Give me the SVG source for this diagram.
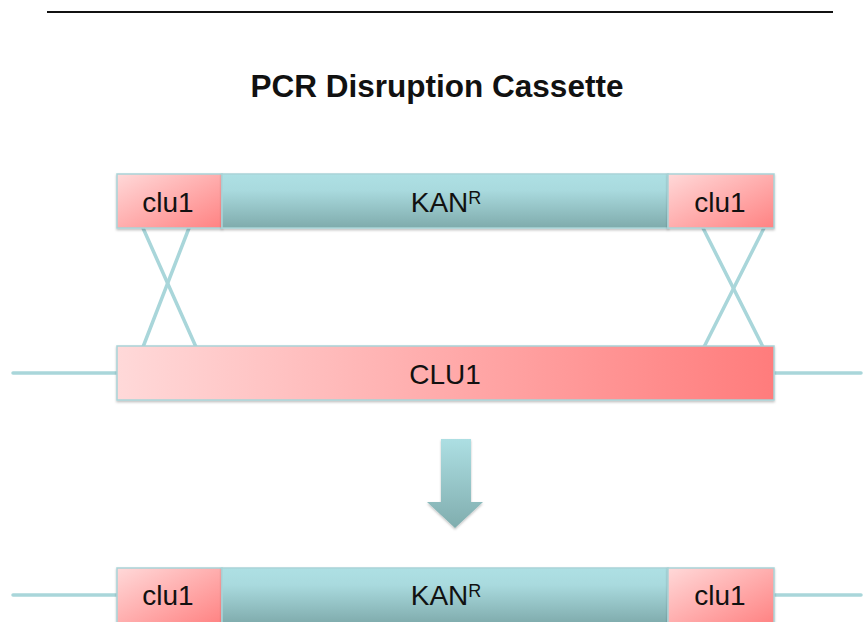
<svg xmlns="http://www.w3.org/2000/svg" width="863" height="622" viewBox="0 0 863 622">
<defs>
<linearGradient id="pinkDiag" x1="0" y1="0" x2="1" y2="1">
<stop offset="0" stop-color="#ffd9d9"/>
<stop offset="1" stop-color="#ff8282"/>
</linearGradient>
<linearGradient id="pinkH" x1="0" y1="0" x2="1" y2="0">
<stop offset="0" stop-color="#ffd9d9"/>
<stop offset="1" stop-color="#ff7c7c"/>
</linearGradient>
<linearGradient id="teal" x1="0" y1="0" x2="0" y2="1">
<stop offset="0" stop-color="#aee0e4"/>
<stop offset="0.3" stop-color="#a9dade"/>
<stop offset="1" stop-color="#7fabac"/>
</linearGradient>
<linearGradient id="tealArrow" x1="0" y1="0" x2="0" y2="1">
<stop offset="0" stop-color="#addfe3"/>
<stop offset="1" stop-color="#80adae"/>
</linearGradient>
<filter id="sh" x="-5%" y="-10%" width="110%" height="130%">
<feDropShadow dx="0" dy="1.5" stdDeviation="1.2" flood-color="#000" flood-opacity="0.25"/>
</filter>
</defs>
<style>
.box{stroke:#a9d4d7;stroke-width:1.5;filter:url(#sh)}
.ln{stroke:#a9d6da;stroke-width:3.5;fill:none;stroke-linecap:round}
.lbl{font-family:"Liberation Sans",Arial,sans-serif;font-size:28px;fill:#111;text-anchor:middle}
.sup{font-size:18px}
.ttl{font-family:"Liberation Sans",Arial,sans-serif;font-size:31.5px;font-weight:bold;fill:#111;text-anchor:middle}
</style>
<line x1="47" y1="12" x2="833" y2="12" stroke="#111" stroke-width="2"/>
<text class="ttl" x="437" y="97">PCR Disruption Cassette</text>
<g id="connectors">
<line class="ln" x1="13" y1="373" x2="117" y2="373"/>
<line class="ln" x1="775" y1="373" x2="861" y2="373"/>
<line class="ln" x1="143" y1="228" x2="196" y2="347"/>
<line class="ln" x1="189" y1="228" x2="143" y2="347"/>
<line class="ln" x1="703" y1="228" x2="763" y2="347"/>
<line class="ln" x1="764" y1="228" x2="704" y2="347"/>
<line class="ln" x1="13" y1="595" x2="117" y2="595"/>
<line class="ln" x1="775" y1="595" x2="861" y2="595"/>
</g>
<g id="top-clu1-left">
<rect class="box" x="117" y="174" width="105" height="54" fill="url(#pinkDiag)"/>
<text class="lbl" x="168" y="212">clu1</text>
</g>
<g id="top-kan">
<rect class="box" x="222" y="174" width="446" height="54" fill="url(#teal)"/>
<text class="lbl" x="446" y="212">KAN<tspan class="sup" dy="-8">R</tspan></text>
</g>
<g id="top-clu1-right">
<rect class="box" x="668" y="174" width="106" height="54" fill="url(#pinkDiag)"/>
<text class="lbl" x="720" y="212">clu1</text>
</g>
<g id="CLU1">
<rect class="box" x="117" y="346" width="657" height="54" fill="url(#pinkH)"/>
<text class="lbl" x="445" y="384">CLU1</text>
</g>
<g id="arrow">
<path d="M441,439 H471 V502 H483 L455,528 L427,502 H441 Z" fill="url(#tealArrow)" filter="url(#sh)"/>
</g>
<g id="bottom-clu1-left">
<rect class="box" x="117" y="568" width="105" height="56" fill="url(#pinkDiag)"/>
<text class="lbl" x="168" y="605">clu1</text>
</g>
<g id="bottom-kan">
<rect class="box" x="222" y="568" width="446" height="56" fill="url(#teal)"/>
<text class="lbl" x="446" y="605">KAN<tspan class="sup" dy="-8">R</tspan></text>
</g>
<g id="bottom-clu1-right">
<rect class="box" x="668" y="568" width="106" height="56" fill="url(#pinkDiag)"/>
<text class="lbl" x="720" y="605">clu1</text>
</g>
</svg>
